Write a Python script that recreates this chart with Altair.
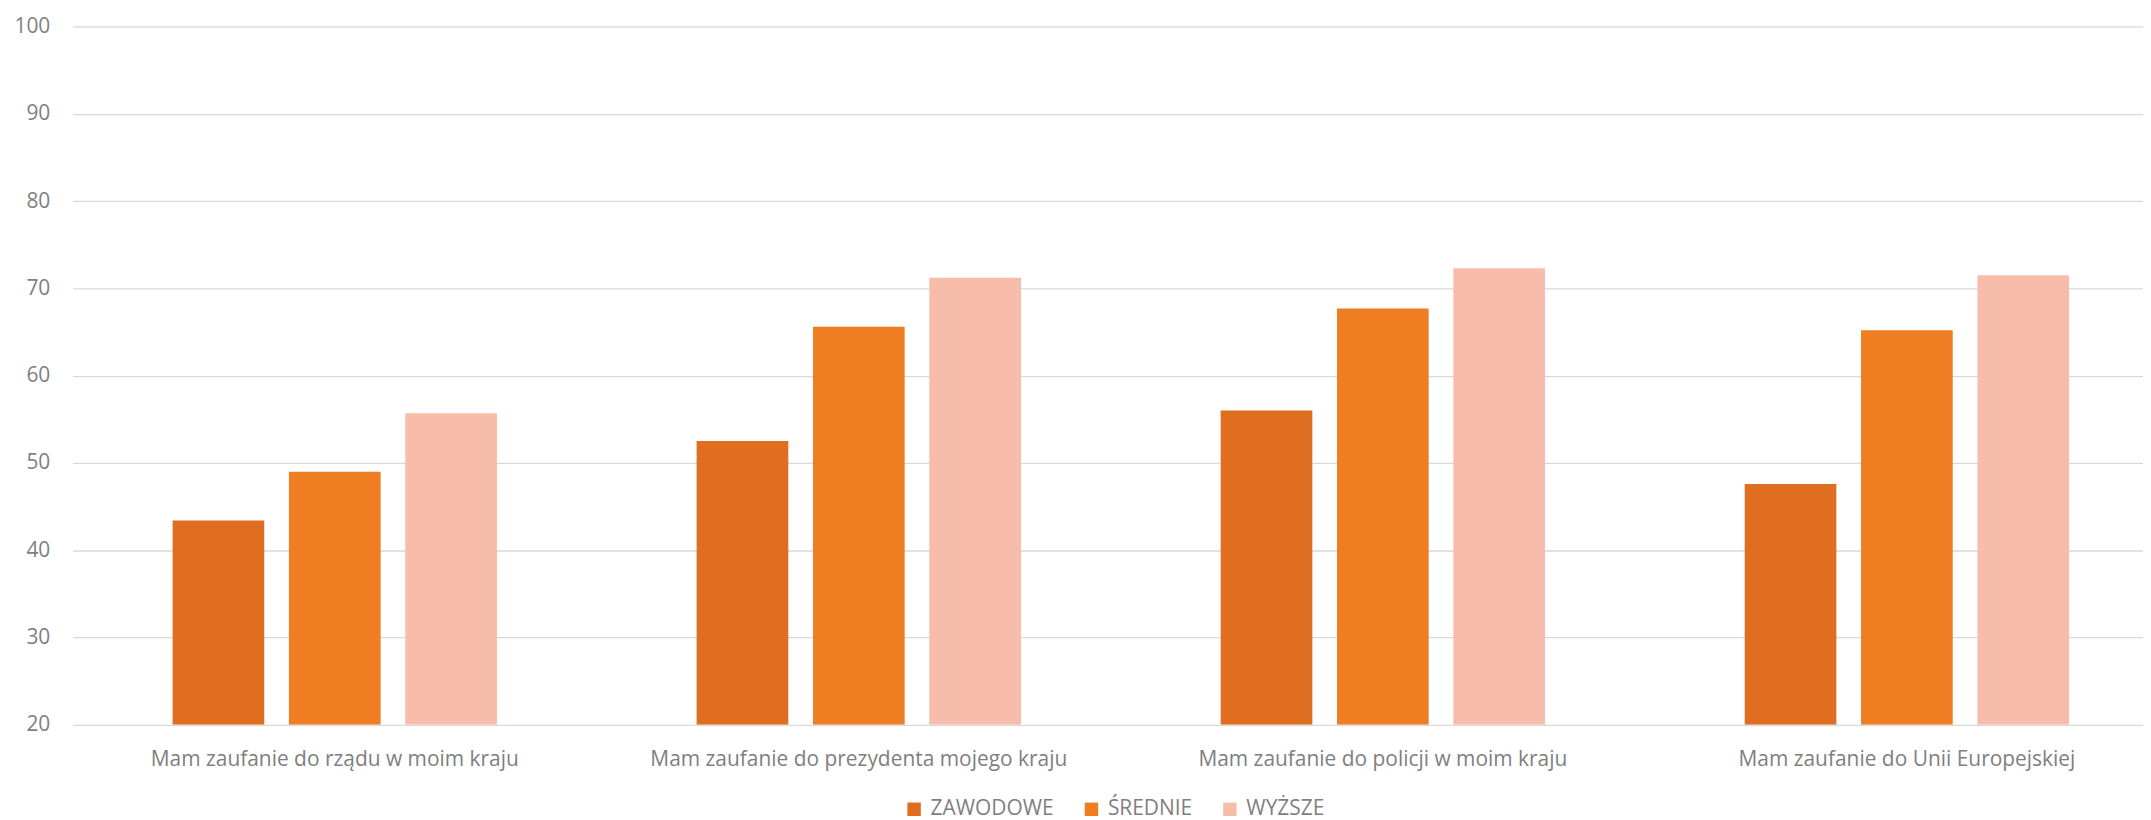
import altair as alt
import pandas as pd

categories = [
    "Mam zaufanie do rządu w moim kraju",
    "Mam zaufanie do prezydenta mojego kraju",
    "Mam zaufanie do policji w moim kraju",
    "Mam zaufanie do Unii Europejskiej",
]
series = ["ZAWODOWE", "ŚREDNIE", "WYŻSZE"]
zawodowe = [43.4, 52.5, 56.0, 47.6]
srednie = [49.0, 65.6, 67.7, 65.2]
wyzsze = [55.7, 71.2, 72.3, 71.5]
colors = ["#DF6E21", "#EF7D22", "#F8BDAA"]

rows = []
for vals, s in zip([zawodowe, srednie, wyzsze], series):
    for c, v in zip(categories, vals):
        rows.append({"kategoria": c, "seria": s, "wartosc": v})
df = pd.DataFrame(rows)

FONT = "Open Sans"
GRAY = "#7F7F7F"

chart = (
    alt.Chart(df)
    .mark_bar(clip=True)
    .encode(
        x=alt.X(
            "kategoria:N",
            sort=categories,
            title=None,
            scale=alt.Scale(paddingInner=0.381, paddingOuter=0.1905, range=[0, 2104]),
            axis=alt.Axis(
                labelAngle=0,
                domain=False,
                ticks=False,
                grid=False,
                labelPadding=24,
                labelFont=FONT,
                labelFontSize=21,
                labelColor=GRAY,
                labelLimit=1000,
            ),
        ),
        xOffset=alt.XOffset(
            "seria:N",
            sort=series,
            scale=alt.Scale(paddingInner=0.212, paddingOuter=0),
        ),
        y=alt.Y(
            "wartosc:Q",
            title=None,
            scale=alt.Scale(domain=[20, 100], nice=False, zero=False),
            axis=alt.Axis(
                values=[20, 30, 40, 50, 60, 70, 80, 90, 100],
                domain=False,
                ticks=False,
                grid=True,
                gridColor="#D9D9D9",
                gridWidth=1.3,
                labelPadding=23,
                labelFont=FONT,
                labelFontSize=21,
                labelColor=GRAY,
            ),
        ),
        y2=alt.Y2(datum=20),
        color=alt.Color(
            "seria:N",
            sort=series,
            scale=alt.Scale(domain=series, range=colors),
            legend=alt.Legend(
                title=None,
                orient="none",
                direction="horizontal",
                legendX=834,
                legendY=775,
                symbolType="square",
                symbolSize=182,
                symbolStrokeWidth=0,
                symbolOpacity=1,
                labelFont=FONT,
                labelFontSize=21,
                labelColor=GRAY,
                labelOffset=6,
                columnPadding=27,
                padding=0,
            ),
        ),
    )
    .properties(
        width=2078,
        height=701,
        background="white",
        autosize=alt.AutoSizeParams(type="none"),
        padding={"left": 65, "top": 17, "right": 0, "bottom": 94},
    )
    .configure_view(stroke=None, strokeWidth=0)
)

chart.save("out.html", embed_options={"renderer": "svg", "actions": False})
